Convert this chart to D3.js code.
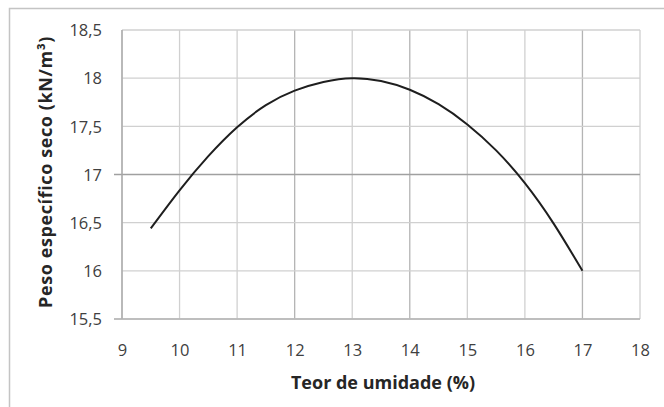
<!DOCTYPE html>
<html><head><meta charset="utf-8">
<script src="https://cdn.jsdelivr.net/npm/d3@7"></script>
<style>body{margin:0;background:#fff}</style>
</head><body>
<svg id="c" width="664" height="407"></svg>
<script>
const moisture = [9.5, 10, 10.5, 11, 11.5, 12, 12.5, 13, 13.5, 14, 14.5, 15, 15.5, 16, 16.5, 17];
const dryWeight = [16.44, 16.835, 17.19, 17.49, 17.72, 17.87, 17.96, 18.0, 17.97, 17.88, 17.73, 17.52, 17.25, 16.91, 16.49, 16.0];
const xTicks = [9, 10, 11, 12, 13, 14, 15, 16, 17, 18];
const yTicks = [15.5, 16, 16.5, 17, 17.5, 18, 18.5];
const xTitle = "Teor de umidade (%)";
const yTitle = "Peso específico seco (kN/m³)";

const svg = d3.select("#c");
const font = "'Open Sans', Lato, sans-serif";
const L = 122, R = 640, T = 30, B = 319;
const x = d3.scaleLinear().domain([9, 18]).range([L, R]);
const y = d3.scaleLinear().domain([15.5, 18.5]).range([B, T]);

svg.append("rect").attr("x", 9.5).attr("y", 8.5).attr("width", 670).attr("height", 420)
  .attr("fill", "#fff").attr("stroke", "#c4c4c4").attr("stroke-width", 1.5);

const darkV = new Set([12, 14, 17]);
const g = svg.append("g");
g.selectAll(".vg").data(xTicks).join("line")
  .attr("x1", d => x(d)).attr("x2", d => x(d)).attr("y1", T).attr("y2", B)
  .attr("stroke", d => darkV.has(d) ? "#b4b4b4" : "#d0d0d0").attr("stroke-width", 1.3);
g.selectAll(".hg").data(yTicks).join("line")
  .attr("x1", d => (d === 17 || d === 15.5) ? L - 8 : L).attr("x2", R)
  .attr("y1", d => y(d)).attr("y2", d => y(d))
  .attr("stroke", d => d === 17 ? "#a0a0a0" : "#d0d0d0").attr("stroke-width", 1.3);
g.append("line").attr("x1", L).attr("x2", L).attr("y1", T).attr("y2", B)
  .attr("stroke", "#a8a8a8").attr("stroke-width", 1.4);
g.append("line").attr("x1", L - 8).attr("x2", R).attr("y1", B).attr("y2", B)
  .attr("stroke", "#b4b4b4").attr("stroke-width", 1.3);

const xAxis = d3.axisBottom(x).tickValues(xTicks).tickSize(0).tickFormat(d => String(d));
const yAxis = d3.axisLeft(y).tickValues(yTicks).tickSize(0)
  .tickFormat(d => String(d).replace(".", ","));
const xa = svg.append("g").attr("transform", `translate(0,${B})`).call(xAxis);
const ya = svg.append("g").attr("transform", `translate(${L},0)`).call(yAxis);
[xa, ya].forEach(a => {
  a.select(".domain").remove();
  a.selectAll("text").attr("font-family", font).attr("font-size", 16.5).attr("fill", "#404040");
});
xa.selectAll("text").attr("dy", "0.35em").attr("y", 31);
ya.selectAll("text").attr("x", -20).attr("dy", "0.35em");

const line = d3.line().x(d => x(d[0])).y(d => y(d[1])).curve(d3.curveNatural);
svg.append("path").datum(moisture.map((m, i) => [m, dryWeight[i]]))
  .attr("d", line).attr("fill", "none").attr("stroke", "#1e1e1e").attr("stroke-width", 2);

svg.append("text").attr("x", 383).attr("y", 389).attr("text-anchor", "middle")
  .attr("font-family", font).attr("font-weight", "bold").attr("font-size", 18).attr("fill", "#262626")
  .text(xTitle);
svg.append("text").attr("transform", `translate(52,${172}) rotate(-90)`).attr("text-anchor", "middle")
  .attr("font-family", font).attr("font-weight", "bold").attr("font-size", 18)
  .attr("letter-spacing", 0.6).attr("fill", "#262626")
  .text(yTitle);
</script>
</body></html>
